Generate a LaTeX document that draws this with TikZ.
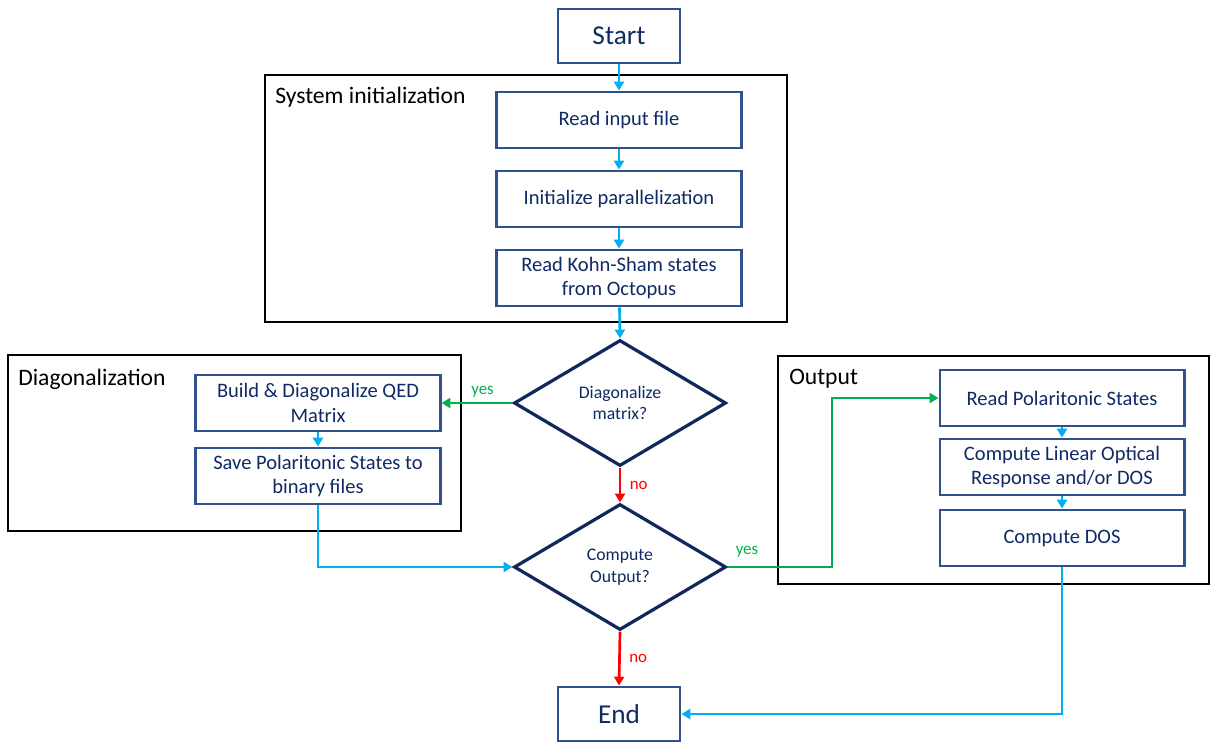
\documentclass[tikz,border=0pt]{standalone}
\usepackage{fontspec}
\setmainfont{Carlito}
\usetikzlibrary{shapes.geometric,arrows.meta}
\definecolor{boxblue}{HTML}{2F528F}
\definecolor{txtblue}{HTML}{102A64}
\definecolor{dianavy}{HTML}{12275E}
\definecolor{arrblue}{HTML}{00B0F0}
\definecolor{arrgreen}{HTML}{00B050}
\definecolor{arrred}{HTML}{FF0000}
\tikzset{
  procbox/.style={draw=boxblue, line width=2.1pt, fill=white, text=txtblue,
    minimum width=6.1cm, minimum height=1.4cm, align=center, inner sep=2pt,
    font=\fontsize{14.6}{17.5}\selectfont},
  termbox/.style={draw=boxblue, line width=2.1pt, fill=white, text=txtblue,
    minimum width=3.05cm, minimum height=1.35cm, font=\fontsize{19.4}{22}\selectfont},
  decision/.style={diamond, draw=dianavy, line width=2.3pt, fill=white, text=txtblue,
    minimum width=5.3cm, minimum height=3.15cm, inner sep=0pt, align=center,
    font=\fontsize{12.6}{15.5}\selectfont},
  frame/.style={draw=black, line width=2.1pt},
  framelabel/.style={anchor=west, inner sep=0pt, font=\fontsize{16.8}{19}\selectfont},
  flow/.style={line width=1.9pt, -{Triangle[length=0.22cm,width=0.25cm]}},
  bflow/.style={flow, draw=arrblue, arrblue},
  gflow/.style={flow, draw=arrgreen, arrgreen},
  rflow/.style={flow, draw=arrred, arrred},
  edgelab/.style={font=\fontsize{12}{14}\selectfont, inner sep=0pt}
}
\begin{document}
\begin{tikzpicture}[x=0.025cm, y=-0.025cm]
\useasboundingbox (0,0) rectangle (1211,742);
% frames
\draw[frame] (265,75) rectangle (787,322);
\draw[frame] (8,355) rectangle (461,531);
\draw[frame] (778,356) rectangle (1209,584);
\node[framelabel] (lsys) at (275,97) {System initialization};
\node[framelabel] (ldiag) at (18,379) {Diagonalization};
\node[framelabel] (lout) at (789,379) {Output};
% nodes
\node[termbox] (start) at (619,36) {Start};
\node[procbox] (read) at (619,120) {Read input file};
\node[procbox] (par) at (619,199) {Initialize parallelization};
\node[procbox] (ks) at (619,278) {Read Kohn-Sham states\\from Octopus};
\node[decision] (d1) at (620,403) {Diagonalize\\matrix?};
\node[decision] (d2) at (620,567) {Compute\\Output?};
\node[termbox] (end) at (619,714) {End};
\node[procbox] (build) at (318,403) {Build \& Diagonalize QED\\Matrix};
\node[procbox] (save) at (318,476) {Save Polaritonic States to\\binary files};
\node[procbox] (rp) at (1062,398) {Read Polaritonic States};
\node[procbox] (lin) at (1062,467) {Compute Linear Optical\\Response and/or DOS};
\node[procbox] (dos) at (1062,538) {Compute DOS};
% connectors
\draw[bflow] (start) -- (read);
\draw[bflow] (read) -- (par);
\draw[bflow] (par) -- (ks);
\draw[bflow] (ks) -- (d1.north);
\draw[gflow] (d1.west) -- (build.east) node[edgelab, pos=0.42, above=3pt, text=arrgreen] (y1) {yes};
\draw[rflow] (d1.south) -- (d2.north) node[edgelab, midway, right=6pt, text=arrred] (n1) {no};
\draw[bflow] (save.south) |- (d2.west);
\coordinate (g2) at (832,567);
\draw[gflow] (d2.east) -- (g2) |- (rp.west);
\node[edgelab, text=arrgreen] (y2) at (747,552) {yes};
\draw[bflow] (build) -- (save);
\draw[bflow] (rp) -- (lin);
\draw[bflow] (lin) -- (dos);
\draw[rflow] (d2.south) -- (end.north) node[edgelab, midway, right=6pt, text=arrred] (n2) {no};
\draw[bflow] (dos.south) |- (end.east);
\end{tikzpicture}
\end{document}
